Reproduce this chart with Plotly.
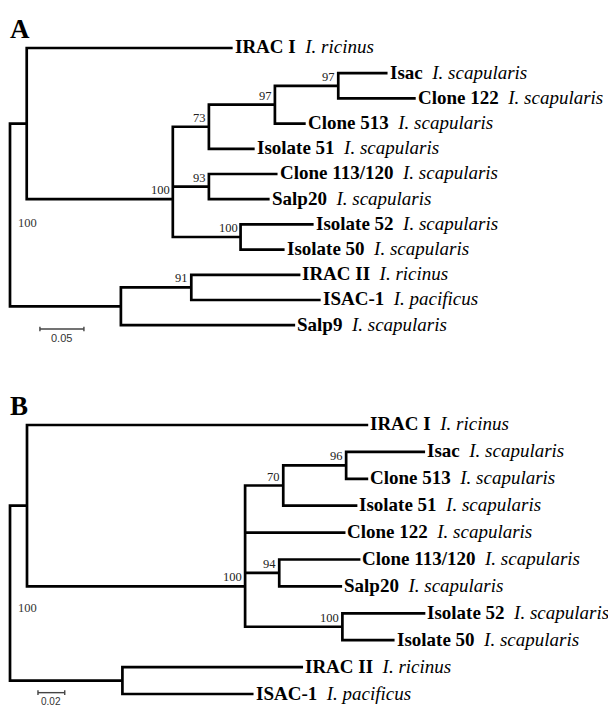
import plotly.graph_objects as go

# ---------------- data ----------------
# Tip labels (bold name, italic species) in display order
tips_A = ["IRAC I", "Isac", "Clone 122", "Clone 513", "Isolate 51", "Clone 113/120",
          "Salp20", "Isolate 52", "Isolate 50", "IRAC II", "ISAC-1", "Salp9"]
species_A = ["I. ricinus", "I. scapularis", "I. scapularis", "I. scapularis", "I. scapularis",
             "I. scapularis", "I. scapularis", "I. scapularis", "I. scapularis",
             "I. ricinus", "I. pacificus", "I. scapularis"]
tips_B = ["IRAC I", "Isac", "Clone 513", "Isolate 51", "Clone 122", "Clone 113/120",
          "Salp20", "Isolate 52", "Isolate 50", "IRAC II", "ISAC-1"]
species_B = ["I. ricinus", "I. scapularis", "I. scapularis", "I. scapularis", "I. scapularis",
             "I. scapularis", "I. scapularis", "I. scapularis", "I. scapularis",
             "I. ricinus", "I. pacificus"]


def N(length, children, support=None, anchor=None):
    return {"len": length, "children": children, "support": support, "anchor": anchor}


def T(name, length):
    return {"len": length, "tip": name}


# Tree A (branch lengths, substitutions/site), bootstrap support
tree_A = N(0.0, [
    N(0.019, [
        T("IRAC I", 0.234),
        N(0.166, [
            N(0.041, [
                N(0.075, [
                    N(0.072, [T("Isac", 0.056), T("Clone 122", 0.088)], 97),
                    T("Clone 513", 0.035)], 97),
                T("Isolate 51", 0.052)], 73),
            N(0.041, [T("Clone 113/120", 0.078), T("Salp20", 0.069)], 93),
            N(0.077, [T("Isolate 52", 0.083), T("Isolate 50", 0.050)], 100),
        ], 100, anchor="Salp20"),
    ]),
    N(0.126, [
        N(0.080, [T("IRAC II", 0.124), T("ISAC-1", 0.147)], 91),
        T("Salp9", 0.198)]),
], 100)

# Tree B
tree_B = N(0.0, [
    N(0.0127, [
        T("IRAC I", 0.255),
        N(0.163, [
            N(0.0285, [
                N(0.047, [T("Isac", 0.059), T("Clone 513", 0.0165)], 96),
                T("Isolate 51", 0.0554)], 70),
            T("Clone 122", 0.075),
            N(0.0255, [T("Clone 113/120", 0.0607), T("Salp20", 0.047)], 94),
            N(0.0727, [T("Isolate 52", 0.062), T("Isolate 50", 0.039)], 100),
        ], 100, anchor="Salp20"),
    ]),
    N(0.084, [T("IRAC II", 0.135), T("ISAC-1", 0.098)]),
], 100)

scale_A = 0.05
scale_B = 0.02

# ---------------- layout helpers ----------------
def layout(node, tips, x0=0.0):
    node["x"] = x0 + node["len"]
    if "tip" in node:
        node["y"] = tips.index(node["tip"])
        return
    for c in node["children"]:
        layout(c, tips, node["x"])
    if node["anchor"] is not None:
        node["y"] = tips.index(node["anchor"])
    else:
        node["y"] = (node["children"][0]["y"] + node["children"][-1]["y"]) / 2


def segments(node, xs, ys, internals):
    if "tip" in node:
        return
    internals.append(node)
    ch = node["children"]
    first, last = ch[0], ch[-1]
    xs += [first["x"], node["x"], node["x"], last["x"], None]
    ys += [first["y"], first["y"], last["y"], last["y"], None]
    for c in ch[1:-1]:
        xs += [node["x"], c["x"], None]
        ys += [c["y"], c["y"], None]
    for c in ch:
        segments(c, xs, ys, internals)


def tip_nodes(node, out):
    if "tip" in node:
        out.append(node)
    else:
        for c in node["children"]:
            tip_nodes(c, out)
    return out


fig = go.Figure()
SERIF = "Liberation Serif, Times New Roman, serif"
annotations = []

panels = [
    (tree_A, tips_A, species_A, "x", "y", scale_A, 0.034, "A", 0.15, 1, 11),
    (tree_B, tips_B, species_B, "x2", "y2", scale_B, 0.0209, "B", -0.05, -6, 10),
]

for tree, tips, species, xr, yr, sc, sc_x0, letter, bar_off, root_shift, sc_fs in panels:
    layout(tree, tips)
    xs, ys, internals = [], [], []
    segments(tree, xs, ys, internals)
    fig.add_trace(go.Scatter(x=xs, y=ys, mode="lines", xaxis=xr, yaxis=yr,
                             line=dict(color="black", width=2.7), hoverinfo="skip",
                             showlegend=False))
    for t in tip_nodes(tree, []):
        sp = species[tips.index(t["tip"])]
        annotations.append(dict(
            x=t["x"], y=t["y"], xref=xr, yref=yr, xanchor="left", yanchor="middle",
            xshift=0, yshift=1, showarrow=False,
            text="<b>%s</b>\u00a0\u00a0<i>%s</i>" % (t["tip"], sp),
            font=dict(family=SERIF, size=19, color="black")))
    for n in internals:
        if n["support"] is None:
            continue
        if n is tree:
            annotations.append(dict(
                x=n["x"], y=n["y"], xref=xr, yref=yr, xanchor="left", yanchor="top",
                xshift=6, yshift=root_shift, showarrow=False, text=str(n["support"]),
                font=dict(family=SERIF, size=12.5, color="#333")))
        else:
            annotations.append(dict(
                x=n["x"], y=n["y"], xref=xr, yref=yr, xanchor="right", yanchor="bottom",
                xshift=-1, yshift=0, showarrow=False, text=str(n["support"]),
                font=dict(family=SERIF, size=12.5, color="#222")))
    # scale bar
    ybar = len(tips) - 1 + bar_off
    fig.add_trace(go.Scatter(
        x=[sc_x0, sc_x0 + sc, None, sc_x0, sc_x0, None, sc_x0 + sc, sc_x0 + sc],
        y=[ybar, ybar, None, ybar - 0.09, ybar + 0.09, None, ybar - 0.09, ybar + 0.09],
        mode="lines", xaxis=xr, yaxis=yr, line=dict(color="#444", width=1.4),
        hoverinfo="skip", showlegend=False))
    annotations.append(dict(
        x=sc_x0 + sc / 2, y=ybar, xref=xr, yref=yr, xanchor="center", yanchor="top",
        yshift=-1, showarrow=False, text=str(sc),
        font=dict(family="Liberation Sans, Arial, sans-serif", size=sc_fs, color="#333")))

annotations.append(dict(x=0, y=1 - 4 / 698, xref="paper", yref="paper",
                        xanchor="left", yanchor="top", showarrow=False, text="<b>A</b>",
                        font=dict(family=SERIF, size=27, color="black")))
annotations.append(dict(x=0, y=1 - 381 / 698, xref="paper", yref="paper",
                        xanchor="left", yanchor="top", showarrow=False, text="<b>B</b>",
                        font=dict(family=SERIF, size=27, color="black")))

ax = dict(visible=False, showgrid=False, zeroline=False, fixedrange=True)
fig.update_layout(
    width=600, height=698,
    margin=dict(l=0, r=0, t=0, b=0),
    paper_bgcolor="white", plot_bgcolor="white",
    xaxis=dict(ax, domain=[0, 1], range=[-0.00227, 0.6795]),
    yaxis=dict(ax, domain=[0.5172, 1], range=[11.786, -1.587]),
    xaxis2=dict(ax, domain=[0, 1], range=[-0.0015, 0.4469], anchor="y2"),
    yaxis2=dict(ax, domain=[0, 0.5029], range=[10.446, -2.602], anchor="x2"),
    annotations=annotations,
)

fig.write_html("out.html")
